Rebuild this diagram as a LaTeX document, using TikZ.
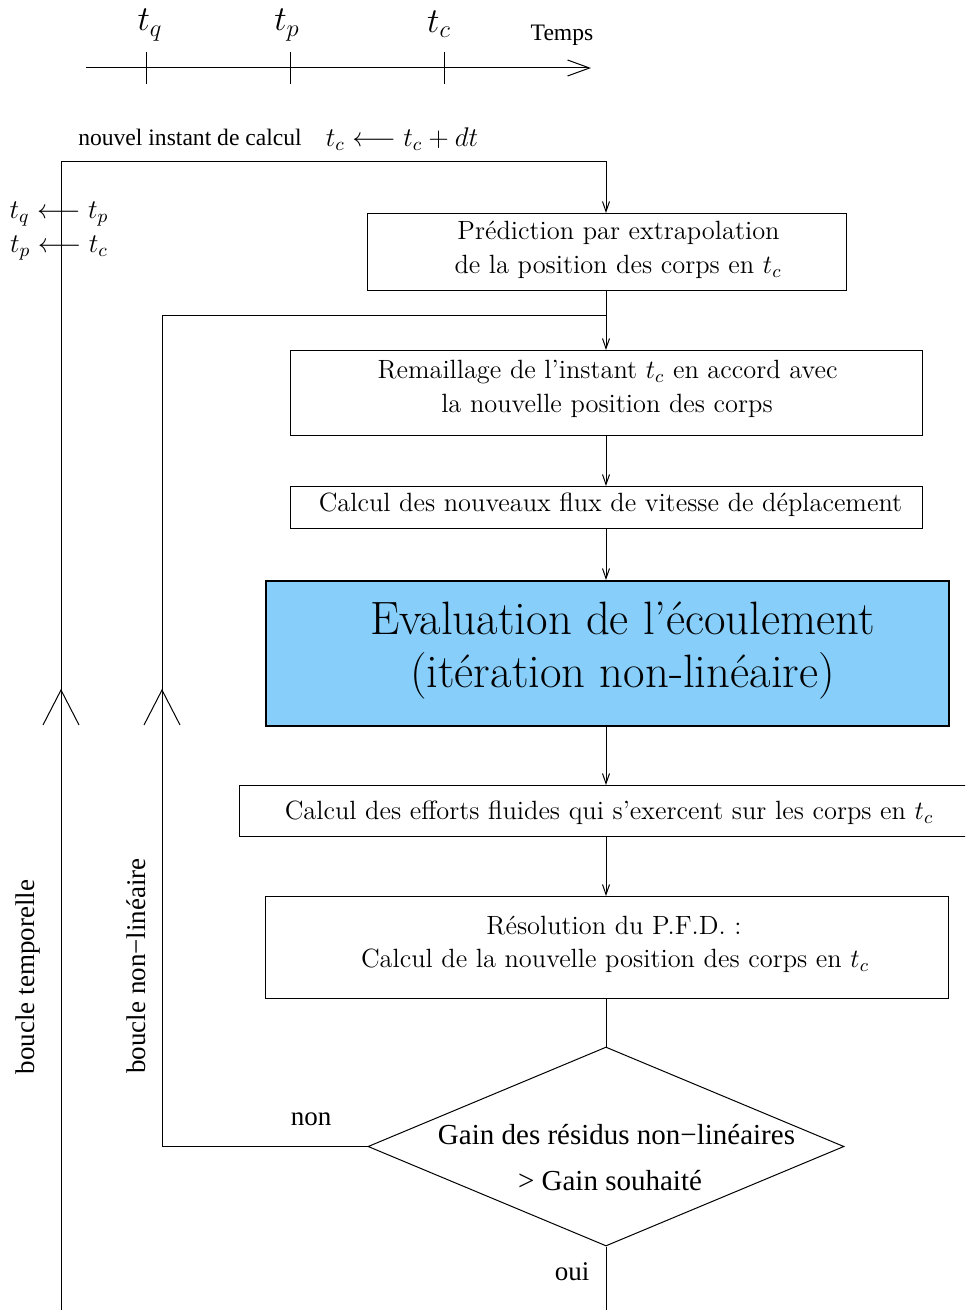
\RequirePackage{fix-cm}
\documentclass[tikz,border=0pt]{standalone}
\usepackage{fontspec}
\newfontfamily\tms{Liberation Serif}
\usetikzlibrary{arrows.meta,shapes.geometric}
\definecolor{skyb}{RGB}{135,206,250}
\begin{document}
\begin{tikzpicture}[x=0.5pt,y=-0.5pt,
  ln/.style={line width=0.5pt},
  tip/.style={ln,-{Straight Barb[length=5pt,width=3.5pt,line width=0.5pt]}},
  box/.style={draw,line width=0.5pt,inner sep=0pt,anchor=north west},
  cmt/.style={font=\fontsize{13.2}{17}\selectfont,inner sep=0pt},
  bigt/.style={font=\fontsize{23.4}{28}\selectfont,inner sep=0pt},
  mth/.style={font=\fontsize{13.5}{16}\selectfont,inner sep=0pt},
  mtop/.style={font=\fontsize{17.5}{20}\selectfont,inner sep=0pt},
  tmt/.style={font=\tms\fontsize{11.8}{14}\selectfont,inner sep=0pt},
  tml/.style={font=\tms\fontsize{13.5}{16}\selectfont,inner sep=0pt},
  tmd/.style={font=\tms\fontsize{14.5}{17}\selectfont,inner sep=0pt}]
\useasboundingbox (0,0) rectangle (965,1310);
\clip (0,0) rectangle (965,1310);

% timeline
\coordinate (ta) at (86,68);
\coordinate (tb) at (591,68);
\draw[ln,-{Straight Barb[length=11pt,width=8pt,line width=0.5pt]}] (ta) -- (tb);
\draw[ln] (146,52) -- (146,84);
\draw[ln] (290,52) -- (290,84);
\draw[ln] (444,52) -- (444,84);
\node[mtop] (lq) at (150,25) {$t_q$};
\node[mtop] (lp) at (287,25) {$t_p$};
\node[mtop] (lc) at (439,24) {$t_c$};
\node[tmt] (temps) at (562,35) {Temps};

\node[tmt] (nouv) at (190,137) {nouvel instant de calcul};
\node[mth] (upd) at (402,139) {$t_c \longleftarrow t_c + dt$};

% boxes
\coordinate (X) at (606,0);
\node[box,minimum width=239.5pt,minimum height=38.5pt] (b1) at (367,213) {};
\node[box,minimum width=316pt,minimum height=42.5pt] (b2) at (290,350) {};
\node[box,minimum width=316pt,minimum height=21pt] (b3) at (290,486) {};
\node[box,fill=skyb,line width=1pt,minimum width=341.5pt,minimum height=72.5pt] (b4) at (265,580) {};
\node[box,minimum width=372pt,minimum height=25.5pt] (b5) at (239,785) {};
\node[box,minimum width=341.5pt,minimum height=51pt] (b6) at (265,896) {};
\node[draw,ln,diamond,inner sep=0pt,minimum width=238pt,minimum height=99.5pt] (dec) at (606,1146.5) {};

% box texts
\node[cmt] (t11) at (618.5,233) {Prédiction par extrapolation};
\node[cmt] (t12) at (618,267) {de la position des corps en $t_c$};
\node[cmt] (t21) at (607.5,372) {Remaillage de l'instant $t_c$ en accord avec};
\node[cmt] (t22) at (607,406) {la nouvelle position des corps};
\node[cmt] (t31) at (610.5,505) {Calcul des nouveaux flux de vitesse de déplacement};
\node[bigt] (t41) at (622.5,618) {Evaluation de l'écoulement};
\node[bigt] (t42) at (622.5,676) {(itération non-linéaire)};
\node[cmt] (t51) at (609,813) {Calcul des efforts fluides qui s'exercent sur les corps en $t_c$};
\node[cmt] (t61) at (614,926) {Résolution du P.F.D. :};
\node[cmt] (t62) at (615,961) {Calcul de la nouvelle position des corps en $t_c$};
\node[tmd] (d1) at (616.5,1135) {Gain des résidus non−linéaires};
\node[tmd] (d2) at (610,1181) {> Gain souhaité};

% loops
\coordinate (tbot) at (61,1310);
\coordinate (ttop) at (61,162);
\coordinate (ntop) at (162,316);
\coordinate (out) at (606,1310);
\draw[tip] (tbot) -- (ttop) -| (b1.north -| X);
\draw[tip] (b1.south -| X) -- (b2.north -| X);
\draw[ln] (dec.west) -| (ntop) -- (ntop -| X);
\draw[tip] (b2.south -| X) -- (b3.north -| X);
\draw[tip] (b3.south -| X) -- (b4.north -| X);
\draw[tip] (b4.south -| X) -- (b5.north -| X);
\draw[tip] (b5.south -| X) -- (b6.north -| X);
\draw[ln] (b6.south -| X) -- (dec.north);
\draw[ln] (dec.south) -- (out);

% big loop arrowheads
\draw[ln] (43,725) -- (61,690) -- (79,725);
\draw[ln] (144,725) -- (162,690) -- (180,725);

% loop labels
\node[mth] (s1) at (59,214) {$t_q \longleftarrow t_p$};
\node[mth] (s2) at (59,248) {$t_p \longleftarrow t_c$};
\node[tml,rotate=90] (lt) at (28,977) {boucle temporelle};
\node[tml,rotate=90] (lnl) at (136,966) {boucle non−linéaire};
\node[tml] (non) at (311,1119) {non};
\node[tml] (oui) at (572,1272) {oui};
\end{tikzpicture}
\end{document}
